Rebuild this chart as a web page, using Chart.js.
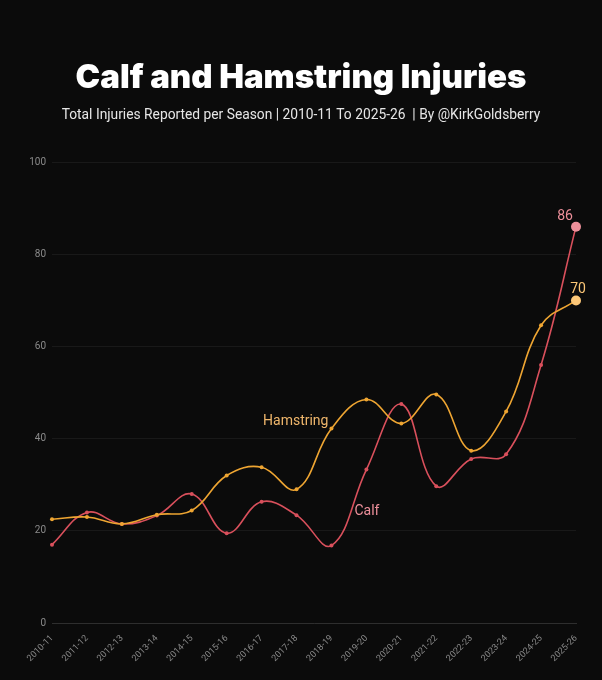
<!DOCTYPE html>
<html>
<head>
<meta charset="utf-8">
<script src="https://cdn.jsdelivr.net/npm/chart.js@4"></script>
<style>
  html, body { margin: 0; padding: 0; background: #0b0b0b; }
  #wrap { width: 602px; height: 680px; }
</style>
</head>
<body>
<div id="wrap"><canvas id="myChart"></canvas></div>
<script>
    const seasons = [
        '2010-11', '2011-12', '2012-13', '2013-14', '2014-15', '2015-16',
        '2016-17', '2017-18', '2018-19', '2019-20', '2020-21', '2021-22',
        '2022-23', '2023-24', '2024-25', '2025-26'
    ];
    const calf = [17, 24, 21.5, 23.3, 28, 19.5, 26.3, 23.4, 16.8, 33.3, 47.5, 29.7, 35.6, 36.6, 56, 86];
    const hamstring = [22.5, 23, 21.5, 23.5, 24.4, 32, 33.8, 29, 42.2, 48.5, 43.3, 49.6, 37.4, 45.9, 64.6, 70];
    const yTicks = [0, 20, 40, 60, 80, 100];

    const calfColor = '#d9505c';
    const hamColor = '#eea532';

    const lastIdx = seasons.length - 1;
    const radii = seasons.map((s, i) => i === lastIdx ? 5 : 2);

    // text labels placed next to the data points
    const notes = {
        id: 'notes',
        afterDatasetsDraw(chart) {
            const ctx = chart.ctx;
            const x = chart.scales.x;
            const y = chart.scales.y;
            ctx.save();
            ctx.textBaseline = 'middle';
            ctx.font = '400 14px Roboto, "Noto Sans", sans-serif';

            ctx.fillStyle = '#f0b76c';
            ctx.textAlign = 'right';
            ctx.fillText('Hamstring', x.getPixelForValue(8) - 3, y.getPixelForValue(hamstring[8]) - 7);

            ctx.fillStyle = '#ee909b';
            ctx.textAlign = 'left';
            ctx.fillText('Calf', x.getPixelForValue(9) - 12, y.getPixelForValue(calf[9]) + 42);

            ctx.textAlign = 'center';
            ctx.fillStyle = '#ee909b';
            ctx.fillText(Math.round(calf[lastIdx]), x.getPixelForValue(lastIdx) - 11, y.getPixelForValue(calf[lastIdx]) - 10);
            ctx.fillStyle = '#fcc777';
            ctx.fillText(Math.round(hamstring[lastIdx]), x.getPixelForValue(lastIdx) + 2, y.getPixelForValue(hamstring[lastIdx]) - 11);
            ctx.restore();
        }
    };

    const data = {
        labels: seasons,
        datasets: [{
            label: 'Hamstring',
            data: hamstring,
            borderColor: hamColor,
            backgroundColor: hamColor,
            borderWidth: 1.6,
            tension: 0.4,
            pointRadius: radii,
            pointBorderWidth: 0,
            pointBackgroundColor: seasons.map((s, i) => i === lastIdx ? '#fcc777' : hamColor)
        }, {
            label: 'Calf',
            data: calf,
            borderColor: calfColor,
            backgroundColor: calfColor,
            borderWidth: 1.6,
            tension: 0.4,
            pointRadius: radii,
            pointBorderWidth: 0,
            pointBackgroundColor: seasons.map((s, i) => i === lastIdx ? '#ee909b' : calfColor)
        }]
    };

    const config = {
        type: 'line',
        data: data,
        options: {
            responsive: true,
            maintainAspectRatio: false,
            animation: false,
            layout: { padding: { left: 26, right: 26, top: 0, bottom: 0 } },
            plugins: {
                legend: { display: false },
                tooltip: { enabled: false },
                title: {
                    display: true,
                    text: 'Calf and Hamstring Injuries',
                    color: '#ffffff',
                    font: { family: 'Inter, "Noto Sans", sans-serif', size: 33, weight: '900' },
                    padding: { top: 58, bottom: 10 }
                },
                subtitle: {
                    display: true,
                    text: 'Total Injuries Reported per Season | 2010-11 To 2025-26  | By @KirkGoldsberry',
                    color: '#e6e6e6',
                    font: { family: 'Roboto, "Noto Sans", sans-serif', size: 13.8 },
                    padding: { top: 0, bottom: 38 }
                }
            },
            scales: {
                x: {
                    grid: { display: false },
                    border: { color: '#2e2e2e', width: 1 },
                    ticks: {
                        color: '#8a8a8a',
                        font: { family: 'Roboto, sans-serif', size: 9 },
                        minRotation: 45,
                        maxRotation: 45,
                        padding: 2
                    },
                    afterFit(scale) { scale.height = 57; }
                },
                y: {
                    min: 0,
                    max: 100,
                    afterBuildTicks(scale) { scale.ticks = yTicks.map(v => ({ value: v })); },
                    grid: { color: '#191919', drawTicks: false },
                    border: { display: false },
                    ticks: {
                        color: '#8a8a8a',
                        font: { family: 'Roboto, sans-serif', size: 10 },
                        padding: 6
                    },
                    afterFit(scale) { scale.width = 26; }
                }
            }
        },
        plugins: [notes]
    };

    const myChart = new Chart(
        document.getElementById('myChart'),
        config
    );
</script>
</body>
</html>
